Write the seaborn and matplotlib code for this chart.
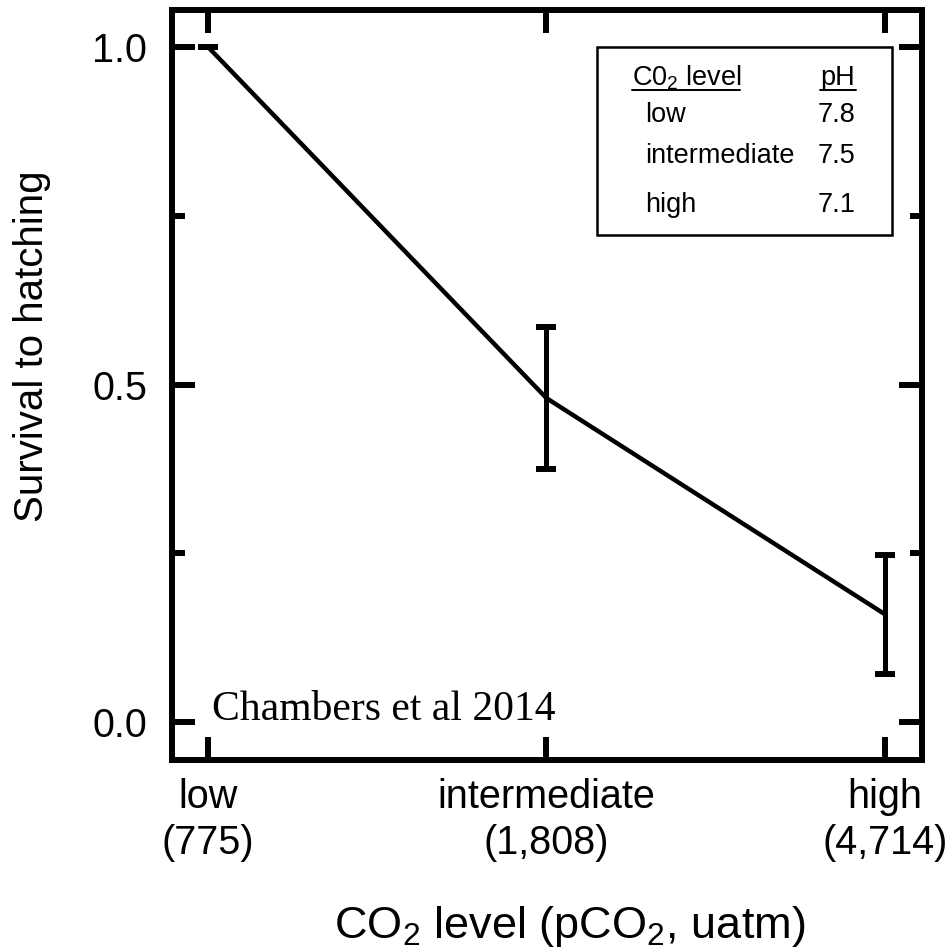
import matplotlib
matplotlib.use("Agg")
import matplotlib.pyplot as plt
import seaborn as sns
import pandas as pd
from matplotlib.patches import Rectangle
from matplotlib.ticker import FixedLocator

# CO2 treatment groups and hatching survival
levels = ["low", "intermediate", "high"]
pco2 = ["775", "1,808", "4,714"]
ph_values = ["7.8", "7.5", "7.1"]
survival = [1.0, 0.48, 0.16]
survival_err = [0.0, 0.105, 0.088]

sns.set_theme(style="ticks")
plt.rcParams["font.family"] = ["Liberation Sans", "DejaVu Sans"]
plt.rcParams["mathtext.fontset"] = "custom"
plt.rcParams["mathtext.rm"] = "Liberation Sans"
plt.rcParams["mathtext.it"] = "Liberation Sans:italic"

df = pd.DataFrame({"pos": range(len(levels)), "survival": survival,
                   "err": survival_err, "level": levels})

fig = plt.figure(figsize=(9.46, 9.51), dpi=100)
ax = fig.add_axes([172 / 946, 1 - 760 / 951, 750 / 946, 750 / 951])

sns.lineplot(data=df, x="pos", y="survival", color="black", lw=3.2, ax=ax,
             estimator=None, errorbar=None)
ax.errorbar(df["pos"], df["survival"], yerr=df["err"], fmt="none",
            ecolor="black", elinewidth=3.6, capsize=7.5, capthick=4.3)

ax.set_xlim(-0.107, 2.11)
ax.set_ylim(-0.056, 1.055)

ax.set_xticks(df["pos"])
ax.set_xticklabels([f"{l}\n({p})" for l, p in zip(levels, pco2)],
                   linespacing=1.25)
ax.set_yticks([0.0, 0.5, 1.0])
ax.set_yticklabels(["0.0", "0.5", "1.0"])
ax.yaxis.set_minor_locator(FixedLocator([0.25, 0.75]))

ax.tick_params(axis="both", which="major", direction="in", length=16.5,
               width=4.3, color="black", labelsize=28.5, labelcolor="black",
               top=True, right=True)
ax.tick_params(axis="x", which="major", pad=13)
ax.tick_params(axis="y", which="major", pad=18)
ax.tick_params(axis="y", which="minor", direction="in", length=9,
               width=4.3, color="black", left=True, right=True)
ax.tick_params(axis="x", which="minor", bottom=False, top=False)

for side in ["left", "right", "top", "bottom"]:
    ax.spines[side].set_visible(True)
    ax.spines[side].set_linewidth(4.3)
    ax.spines[side].set_color("black")

ax.set_xlabel("")
ax.set_ylabel("")

fig.text(570 / 946, 1 - 938 / 951, "CO$_2$ level (pCO$_2$, uatm)",
         ha="center", va="baseline", fontsize=32.5, color="black")
fig.text(32 / 946, 1 - 346 / 951, "Survival to hatching", rotation=90,
         ha="center", va="center", fontsize=29, color="black")

# pH key
ax.add_patch(Rectangle((0.567, 0.70), 0.393, 0.251, transform=ax.transAxes,
                       fill=False, edgecolor="black", lw=1.8, zorder=5))
key_fs = 19.5
ax.text(0.613, 0.900, "C0$_2$ level", transform=ax.transAxes, ha="left",
        va="baseline", fontsize=key_fs, color="black")
ax.text(0.911, 0.900, "pH", transform=ax.transAxes, ha="right",
        va="baseline", fontsize=key_fs, color="black")
ax.plot([0.613, 0.757], [0.893, 0.893], transform=ax.transAxes,
        color="black", lw=1.4)
ax.plot([0.864, 0.912], [0.893, 0.893], transform=ax.transAxes,
        color="black", lw=1.4)
for lvl, ph, yb in zip(levels, ph_values, [0.851, 0.796, 0.731]):
    ax.text(0.631, yb, lvl, transform=ax.transAxes, ha="left",
            va="baseline", fontsize=key_fs, color="black")
    ax.text(0.911, yb, ph, transform=ax.transAxes, ha="right",
            va="baseline", fontsize=key_fs, color="black")

ax.text(0.053, 0.053, "Chambers et al 2014", transform=ax.transAxes,
        ha="left", va="baseline", fontsize=30,
        family=["Liberation Serif", "DejaVu Serif"], color="black")

fig.savefig("out.png", dpi=100)
